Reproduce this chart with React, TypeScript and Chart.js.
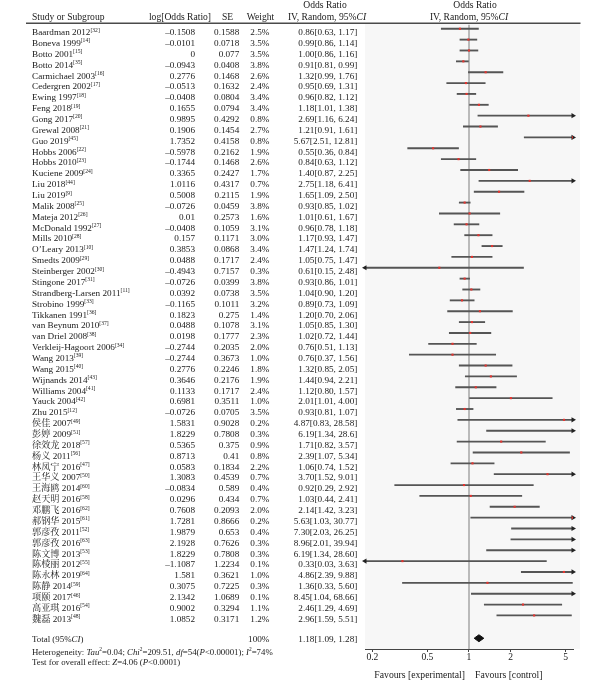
import React, { useEffect, useRef } from 'react';
import { Chart, registerables } from 'chart.js';

Chart.register(...registerables);

// ---------------- data ----------------
const studyNames = [
  'Baardman 2012', 'Boneva 1999', 'Botto 2001', 'Botto 2014', 'Carmichael 2003',
  'Cedergren 2002', 'Ewing 1997', 'Feng 2018', 'Gong 2017', 'Grewal 2008',
  'Guo 2019', 'Hobbs 2006', 'Hobbs 2010', 'Kuciene 2009', 'Liu 2018',
  'Liu 2019', 'Malik 2008', 'Mateja 2012', 'McDonald 1992', 'Mills 2010',
  'O\u2019Leary 2013', 'Smedts 2009', 'Steinberger 2002', 'Stingone 2017', 'Strandberg-Larsen 2011',
  'Strobino 1999', 'Tikkanen 1991', 'van Beynum 2010', 'van Driel 2008', 'Verkleij-Hagoort 2006',
  'Wang 2013', 'Wang 2015', 'Wijnands 2014', 'Williams 2004', 'Yauck 2004',
  'Zhu 2015', '侯佳 2007', '彭婷 2009', '徐效龙 2018', '杨义 2011',
  '林凤宁 2016', '王华义 2007', '王海鸥 2014', '赵天明 2016', '邓鹏飞 2016',
  '郝钢华 2015', '郭彦孜 2011', '郭彦孜 2016', '陈文博 2013', '陈棱丽 2012',
  '陈永林 2019', '陈静 2014', '项颐 2017', '高亚琪 2016', '魏磊 2013',
];
const refNums = [
  32, 14, 15, 35, 16, 17, 18, 19, 20, 21, 45, 22, 23, 24, 44, 9, 25, 26, 27, 28,
  10, 29, 30, 31, 11, 33, 36, 37, 38, 34, 39, 40, 43, 41, 42, 12, 49, 51, 57, 56,
  47, 50, 60, 58, 62, 61, 52, 63, 53, 55, 64, 59, 46, 54, 48,
];
const logOddsRatio = [
  -0.1508, -0.0101, 0, -0.0943, 0.2776, -0.0513, -0.0408, 0.1655, 0.9895, 0.1906,
  1.7352, -0.5978, -0.1744, 0.3365, 1.0116, 0.5008, -0.0726, 0.01, -0.0408, 0.157,
  0.3853, 0.0488, -0.4943, -0.0726, 0.0392, -0.1165, 0.1823, 0.0488, 0.0198, -0.2744,
  -0.2744, 0.2776, 0.3646, 0.1133, 0.6981, -0.0726, 1.5831, 1.8229, 0.5365, 0.8713,
  0.0583, 1.3083, -0.0834, 0.0296, 0.7608, 1.7281, 1.9879, 2.1928, 1.8229, -1.1087,
  1.581, 0.3075, 2.1342, 0.9002, 1.0852,
];
const standardErrors = [
  0.1588, 0.0718, 0.077, 0.0408, 0.1468, 0.1632, 0.0804, 0.0794, 0.4292, 0.1454,
  0.4158, 0.2162, 0.1468, 0.2427, 0.4317, 0.2115, 0.0459, 0.2573, 0.1059, 0.1171,
  0.0868, 0.1717, 0.7157, 0.0399, 0.0738, 0.1011, 0.275, 0.1078, 0.1777, 0.2035,
  0.3673, 0.2246, 0.2176, 0.1717, 0.3511, 0.0705, 0.9028, 0.7808, 0.375, 0.41,
  0.1834, 0.4539, 0.589, 0.434, 0.2093, 0.8666, 0.653, 0.7626, 0.7808, 1.2234,
  0.3621, 0.7225, 1.0689, 0.3294, 0.3171,
];
const weights = [
  2.5, 3.5, 3.5, 3.8, 2.6, 2.4, 3.4, 3.4, 0.8, 2.7,
  0.8, 1.9, 2.6, 1.7, 0.7, 1.9, 3.8, 1.6, 3.1, 3.0,
  3.4, 2.4, 0.3, 3.8, 3.5, 3.2, 1.4, 3.1, 2.3, 2.0,
  1.0, 1.8, 1.9, 2.4, 1.0, 3.5, 0.2, 0.3, 0.9, 0.8,
  2.2, 0.7, 0.4, 0.7, 2.0, 0.2, 0.4, 0.3, 0.3, 0.1,
  1.0, 0.3, 0.1, 1.1, 1.2,
];
const oddsRatios = [
  0.86, 0.99, 1.0, 0.91, 1.32, 0.95, 0.96, 1.18, 2.69, 1.21,
  5.67, 0.55, 0.84, 1.4, 2.75, 1.65, 0.93, 1.01, 0.96, 1.17,
  1.47, 1.05, 0.61, 0.93, 1.04, 0.89, 1.2, 1.05, 1.02, 0.76,
  0.76, 1.32, 1.44, 1.12, 2.01, 0.93, 4.87, 6.19, 1.71, 2.39,
  1.06, 3.7, 0.92, 1.03, 2.14, 5.63, 7.3, 8.96, 6.19, 0.33,
  4.86, 1.36, 8.45, 2.46, 2.96,
];
const ciLower = [
  0.63, 0.86, 0.86, 0.81, 0.99, 0.69, 0.82, 1.01, 1.16, 0.91,
  2.51, 0.36, 0.63, 0.87, 1.18, 1.09, 0.85, 0.61, 0.78, 0.93,
  1.24, 0.75, 0.15, 0.86, 0.9, 0.73, 0.7, 0.85, 0.72, 0.51,
  0.37, 0.85, 0.94, 0.8, 1.01, 0.81, 0.83, 1.34, 0.82, 1.07,
  0.74, 1.52, 0.29, 0.44, 1.42, 1.03, 2.03, 2.01, 1.34, 0.03,
  2.39, 0.33, 1.04, 1.29, 1.59,
];
const ciUpper = [
  1.17, 1.14, 1.16, 0.99, 1.76, 1.31, 1.12, 1.38, 6.24, 1.61,
  12.81, 0.84, 1.12, 2.25, 6.41, 2.5, 1.02, 1.67, 1.18, 1.47,
  1.74, 1.47, 2.48, 1.01, 1.2, 1.09, 2.06, 1.3, 1.44, 1.13,
  1.56, 2.05, 2.21, 1.57, 4.0, 1.07, 28.58, 28.6, 3.57, 5.34,
  1.52, 9.01, 2.92, 2.41, 3.23, 30.77, 26.25, 39.94, 28.6, 3.63,
  9.88, 5.6, 68.66, 4.69, 5.51,
];
// the source prints this one upper limit with a single decimal
const ciTextOverrides: Record<number, string> = { 37: '6.19[1.34, 28.6]' };

const totalWeight = 100;
const totalOR = 1.18;
const totalLower = 1.09;
const totalUpper = 1.28;
const tau2 = '0.04';
const chi2 = '209.51';
const dfValue = 54;
const pHet = '<0.00001';
const i2 = 74;
const zValue = '4.06';
const pZ = '<0.0001';

const xTicks = [0.2, 0.5, 1, 2, 5];

// ---------------- layout constants ----------------
const X_MIN = 0.17678;
const X_MAX = 5.6569;
const Y_MIN = -0.53;
const Y_MAX = 57.09;
const TOTAL_ROW = 56.1;

const FAMILY = "'Liberation Serif', 'Times New Roman', 'Noto Serif CJK SC', 'Noto Sans CJK SC', serif";
const TEXT = '#1a1a1a';

type Seg = { t: string; i?: boolean; sup?: boolean };

function fontOf(size: number, italic?: boolean) {
  return `${italic ? 'italic ' : ''}${size}px ${FAMILY}`;
}

function drawRich(
  ctx: CanvasRenderingContext2D,
  segs: Seg[],
  x: number,
  y: number,
  size: number,
  align: 'left' | 'right' | 'center',
  supSize = size * 0.62,
) {
  const widths = segs.map((s) => {
    ctx.font = fontOf(s.sup ? supSize : size, s.i);
    return ctx.measureText(s.t).width;
  });
  const total = widths.reduce((a, b) => a + b, 0);
  let cx = align === 'left' ? x : align === 'right' ? x - total : x - total / 2;
  ctx.textAlign = 'left';
  ctx.textBaseline = 'alphabetic';
  segs.forEach((s, k) => {
    ctx.font = fontOf(s.sup ? supSize : size, s.i);
    ctx.fillText(s.t, cx, s.sup ? y - size * 0.38 : y);
    cx += widths[k];
  });
}

const fmtNum = (v: number) => String(v).replace('-', '\u2013');
const fmtCI = (i: number) =>
  ciTextOverrides[i] ??
  `${oddsRatios[i].toFixed(2)}[${ciLower[i].toFixed(2)}, ${ciUpper[i].toFixed(2)}]`;

const forestPlugin = {
  id: 'forestTable',
  beforeDraw(chart: any) {
    const { ctx, chartArea } = chart;
    ctx.save();
    ctx.fillStyle = '#ffffff';
    ctx.fillRect(0, 0, chart.width, chart.height);
    ctx.fillStyle = '#f7f7f7';
    ctx.fillRect(chartArea.left, chartArea.top, chartArea.right - chartArea.left + 7, chartArea.bottom - chartArea.top);
    ctx.restore();
  },
  afterDraw(chart: any) {
    const { ctx, chartArea } = chart;
    const y = chart.scales.y;
    const x = chart.scales.x;
    const xp1 = x.getPixelForValue(1);
    ctx.save();
    ctx.fillStyle = TEXT;

    // header rule
    ctx.strokeStyle = '#4a4a4a';
    ctx.lineWidth = 1.5;
    ctx.beginPath();
    ctx.moveTo(26, chartArea.top + 0.3);
    ctx.lineTo(chartArea.right + 7.5, chartArea.top + 0.3);
    ctx.stroke();

    // headers
    const hs = 9.6;
    const hb = 19.8;
    drawRich(ctx, [{ t: 'Study or Subgroup' }], 32, hb, hs, 'left');
    drawRich(ctx, [{ t: 'log[Odds Ratio]' }], 180, hb, hs, 'center');
    drawRich(ctx, [{ t: 'SE' }], 227.5, hb, hs, 'center');
    drawRich(ctx, [{ t: 'Weight' }], 260.5, hb, hs, 'center');
    drawRich(ctx, [{ t: 'Odds Ratio' }], 325, 8.4, hs, 'center');
    drawRich(ctx, [{ t: 'IV, Random, 95%' }, { t: 'CI', i: true }], 327, hb, hs, 'center');
    drawRich(ctx, [{ t: 'Odds Ratio' }], xp1 + 6, 8.4, hs, 'center');
    drawRich(ctx, [{ t: 'IV, Random, 95%' }, { t: 'CI', i: true }], xp1, hb, hs, 'center');

    // study rows
    const bs = 9.2;
    studyNames.forEach((name, i) => {
      const by = y.getPixelForValue(i) + 6.3;
      drawRich(ctx, [{ t: name }, { t: `[${refNums[i]}]`, sup: true }], 32, by, bs, 'left', 5.6);
      drawRich(ctx, [{ t: fmtNum(logOddsRatio[i]) }], 195, by, bs, 'right');
      drawRich(ctx, [{ t: String(standardErrors[i]) }], 239.3, by, bs, 'right');
      drawRich(ctx, [{ t: `${weights[i].toFixed(1)}%` }], 269.5, by, bs, 'right');
      drawRich(ctx, [{ t: fmtCI(i) }], 357.3, by, bs, 'right');
    });

    // total row
    const ty = y.getPixelForValue(TOTAL_ROW) + 3.4;
    drawRich(ctx, [{ t: 'Total (95%' }, { t: 'CI', i: true }, { t: ')' }], 32, ty, 8.9, 'left');
    drawRich(ctx, [{ t: `${totalWeight}%` }], 269.5, ty, bs, 'right');
    drawRich(ctx, [{ t: `${totalOR.toFixed(2)}[${totalLower.toFixed(2)}, ${totalUpper.toFixed(2)}]` }], 357.3, ty, bs, 'right');

    const fs = 8.8;
    drawRich(
      ctx,
      [
        { t: 'Heterogeneity: ' }, { t: 'Tau', i: true }, { t: '2', sup: true }, { t: `=${tau2}; ` },
        { t: 'Chi', i: true }, { t: '2', sup: true }, { t: `=${chi2}, ` }, { t: 'df', i: true },
        { t: `=${dfValue}(` }, { t: 'P', i: true }, { t: `${pHet}); ` }, { t: 'I', i: true },
        { t: '2', sup: true }, { t: `=${i2}%` },
      ],
      32, ty + 12.9, fs, 'left', 5.4,
    );
    drawRich(
      ctx,
      [{ t: 'Test for overall effect: ' }, { t: 'Z', i: true }, { t: `=${zValue} (` }, { t: 'P', i: true }, { t: `${pZ})` }],
      32, ty + 23.6, fs, 'left',
    );

    // favours labels
    const fy = chartArea.bottom + 28.5;
    drawRich(ctx, [{ t: 'Favours [experimental]' }], xp1 - 4, fy, 9.7, 'right');
    drawRich(ctx, [{ t: 'Favours [control]' }], xp1 + 6, fy, 9.7, 'left');

    ctx.restore();
  },
};

export default function App() {
  const ref = useRef<HTMLCanvasElement>(null);

  useEffect(() => {
    const canvas = ref.current;
    if (!canvas) return;

    const ciBars = studyNames.map((_, i) => ({ y: i, x: [ciLower[i], ciUpper[i]] }));
    const estimates = oddsRatios.map((v, i) => ({ x: v, y: i }));
    const rightArrows = ciUpper
      .map((v, i) => (v > X_MAX ? { x: X_MAX, y: i } : null))
      .filter((p) => p !== null);
    const leftArrows = ciLower
      .map((v, i) => (v < X_MIN ? { x: X_MIN, y: i } : null))
      .filter((p) => p !== null);
    const diamond = [
      { x: totalLower, y: TOTAL_ROW },
      { x: totalOR, y: TOTAL_ROW - 0.32 },
      { x: totalUpper, y: TOTAL_ROW },
      { x: totalOR, y: TOTAL_ROW + 0.32 },
      { x: totalLower, y: TOTAL_ROW },
    ];
    const nullLine = [
      { x: 1, y: Y_MIN + 0.15 },
      { x: 1, y: Y_MAX },
    ];

    const chart = new Chart(canvas, {
      type: 'scatter',
      data: {
        datasets: [
          {
            type: 'line',
            data: nullLine,
            borderColor: '#9a9a9a',
            borderWidth: 1.3,
            pointRadius: 0,
            order: 6,
          } as any,
          {
            type: 'bar',
            indexAxis: 'y',
            data: ciBars,
            backgroundColor: '#555555',
            borderWidth: 0,
            barThickness: 1.2,
            grouped: false,
            order: 5,
          } as any,
          {
            type: 'scatter',
            data: rightArrows,
            pointStyle: 'triangle',
            rotation: 90,
            radius: 3,
            backgroundColor: '#222222',
            borderColor: '#222222',
            borderWidth: 0,
            clip: false,
            order: 4,
          } as any,
          {
            type: 'scatter',
            data: leftArrows,
            pointStyle: 'triangle',
            rotation: -90,
            radius: 3,
            backgroundColor: '#222222',
            borderColor: '#222222',
            borderWidth: 0,
            clip: false,
            order: 4,
          } as any,
          {
            type: 'line',
            data: diamond,
            borderColor: '#111111',
            backgroundColor: '#111111',
            borderWidth: 1,
            pointRadius: 0,
            fill: 'shape',
            tension: 0,
            order: 2,
          } as any,
          {
            type: 'scatter',
            data: estimates,
            pointStyle: 'rect',
            radius: 1.5,
            backgroundColor: '#e3342f',
            borderWidth: 0,
            order: 1,
          } as any,
        ],
      },
      options: {
        animation: false,
        responsive: false,
        devicePixelRatio: 1,
        events: [],
        layout: { padding: { left: 365, right: 35, top: 23, bottom: 17 } },
        plugins: {
          legend: { display: false },
          tooltip: { enabled: false },
        },
        scales: {
          x: {
            type: 'logarithmic',
            min: X_MIN,
            max: X_MAX,
            offset: false,
            beginAtZero: false,
            afterBuildTicks: (axis: any) => {
              axis.ticks = xTicks.map((v) => ({ value: v }));
            },
            afterFit: (axis: any) => {
              axis.height = 20;
            },
            ticks: {
              autoSkip: false,
              maxRotation: 0,
              padding: 0,
              color: TEXT,
              font: { family: FAMILY, size: 9.6 },
              callback: (v: any) => String(v),
            },
            grid: {
              offset: false,
              drawOnChartArea: false,
              drawTicks: true,
              tickLength: 3,
              color: '#444444',
            },
            border: { display: true, color: '#444444', width: 1 },
          },
          y: {
            type: 'linear',
            min: Y_MIN,
            max: Y_MAX,
            offset: false,
            beginAtZero: false,
            grid: { offset: false },
            reverse: true,
            display: false,
          },
        },
      } as any,
      plugins: [forestPlugin],
    });

    return () => chart.destroy();
  }, []);

  return (
    <div style={{ position: 'absolute', left: 0, top: 0, width: 608, height: 686, background: '#ffffff' }}>
      <canvas ref={ref} width={608} height={686} style={{ display: 'block', width: 608, height: 686 }} />
    </div>
  );
}
